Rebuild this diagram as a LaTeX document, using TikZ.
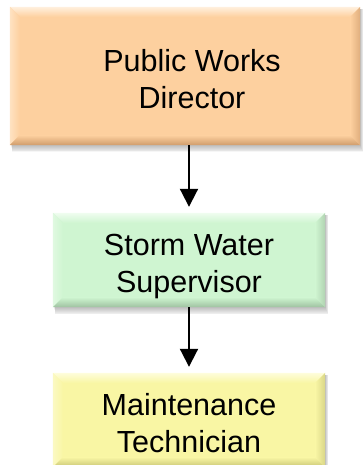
\documentclass[tikz,border=0pt]{standalone}
\usepackage{fontspec}
\setmainfont{Liberation Sans}
\usetikzlibrary{calc,arrows.meta}

% card colours: base, top bevel, left bevel, bottom bevel, right bevel
\definecolor{dirBase}{HTML}{FDD09F}
\definecolor{dirTop}{HTML}{FFF0DE}
\definecolor{dirLeft}{HTML}{FEE2C2}
\definecolor{dirBottom}{HTML}{CF9C6B}
\definecolor{dirRight}{HTML}{E0AE7D}

\definecolor{supBase}{HTML}{CFF5D1}
\definecolor{supTop}{HTML}{F0FDF0}
\definecolor{supLeft}{HTML}{E0F9E1}
\definecolor{supBottom}{HTML}{9EC2A0}
\definecolor{supRight}{HTML}{B0D3B1}

\definecolor{techBase}{HTML}{F9F6A4}
\definecolor{techTop}{HTML}{FEFDDC}
\definecolor{techLeft}{HTML}{FBF9C3}
\definecolor{techBottom}{HTML}{C9C675}
\definecolor{techRight}{HTML}{D9D686}

\pgfdeclarelayer{shadow}
\pgfsetlayers{shadow,main}

\tikzset{
  card/.style={rectangle, inner sep=0pt, draw=none},
  cardtext/.style={font=\fontsize{30.5}{37}\selectfont, align=center, text=black,
    inner sep=0pt, text height=59pt, text depth=0pt},
  link/.style={line width=2pt, shorten >=6pt, -{Triangle[length=18pt,width=18pt]}},
}

% bevelled edges and drop shadow of a card node
% #1 node, #2 base, #3 top, #4 left, #5 bottom, #6 right, #7 bevel width
\newcommand\cardfx[7]{%
  \begin{pgfonlayer}{shadow}
    \foreach \k in {1,...,8}
      \fill[black,opacity=0.035] ($(#1.north west)+(1+0.2*\k,2)$) rectangle ($(#1.south east)+(0.4*\k,0.9*\k)$);
  \end{pgfonlayer}
  \shade[top color=#3, bottom color=#2] (#1.north west) -- (#1.north east) -- ($(#1.north east)+(-#7,#7)$) -- ($(#1.north west)+(#7,#7)$) -- cycle;
  \shade[left color=#4, right color=#2] (#1.north west) -- ($(#1.north west)+(#7,#7)$) -- ($(#1.south west)+(#7,-#7)$) -- (#1.south west) -- cycle;
  \shade[top color=#2, bottom color=#5] (#1.south west) -- ($(#1.south west)+(#7,-#7)$) -- ($(#1.south east)+(-#7,-#7)$) -- (#1.south east) -- cycle;
  \shade[left color=#2, right color=#6] (#1.north east) -- (#1.south east) -- ($(#1.south east)+(-#7,-#7)$) -- ($(#1.north east)+(-#7,#7)$) -- cycle;
}

\begin{document}
\begin{tikzpicture}[x=1pt,y=-1pt]
  \useasboundingbox (0,0) rectangle (362,465);
  \clip (0,0) rectangle (362,465);

  % cards
  \node[card, fill=dirBase, minimum width=350pt, minimum height=138pt] (dir) at (185,76) {};
  \cardfx{dir}{dirBase}{dirTop}{dirLeft}{dirBottom}{dirRight}{10}
  \node[cardtext] (dirlabel) at (192,79.5) {Public Works\\Director};

  \node[card, fill=supBase, minimum width=272pt, minimum height=94pt] (sup) at (189,260) {};
  \cardfx{sup}{supBase}{supTop}{supLeft}{supBottom}{supRight}{10}
  \node[cardtext] (suplabel) at (189,262.5) {Storm Water\\Supervisor};

  \node[card, fill=techBase, minimum width=272pt, minimum height=94pt] (tech) at (189,420) {};
  \cardfx{tech}{techBase}{techTop}{techLeft}{techBottom}{techRight}{10}
  \node[cardtext] (techlabel) at (189,422.5) {Maintenance\\Technician};

  % reporting lines
  \draw[link] (sup.north |- dir.south) -- (sup.north);
  \draw[link] (sup.south) -- (tech.north);
\end{tikzpicture}
\end{document}
